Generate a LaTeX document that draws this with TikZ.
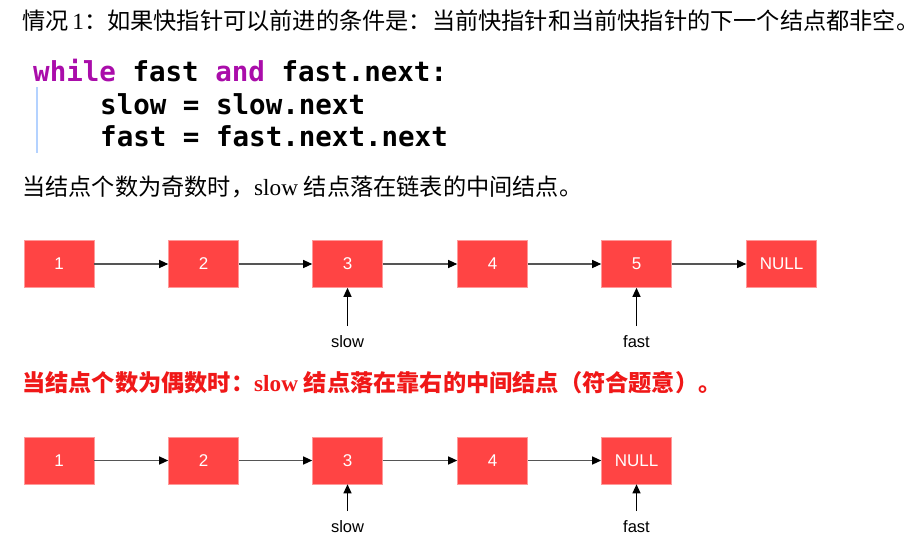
\documentclass[tikz,border=0pt]{standalone}
\usepackage{fontspec}
\setmainfont{Liberation Serif}
\setsansfont{Liberation Sans}
\newfontfamily\cjk{Noto Sans CJK SC}
\newfontfamily\codefont{DejaVu Sans Mono}
\usetikzlibrary{arrows.meta}
\definecolor{boxred}{HTML}{FF4444}
\definecolor{boxedge}{HTML}{FF9999}
\definecolor{kw}{HTML}{AA0DAA}
\definecolor{linkgray}{HTML}{555555}
\definecolor{barblue}{HTML}{B4D2FF}
\definecolor{titlered}{HTML}{F01818}
\begin{document}
\begin{tikzpicture}[x=1pt,y=-1pt,
  listnode/.style={draw=boxedge,line width=0.6pt,fill=boxred,minimum width=70pt,minimum height=47pt,inner sep=0pt,text=white,font=\sffamily\fontsize{17}{20}\selectfont},
  link/.style={draw=linkgray,line width=1.2pt,-{Triangle[length=9pt,width=8pt,color=black]}},
  ptr/.style={draw=black,line width=1.3pt,-{Triangle[length=9pt,width=8pt]}},
  ptrlabel/.style={inner sep=0pt,font=\sffamily\fontsize{16.5}{19}\selectfont},
  textline/.style={anchor=west,inner sep=0pt,font=\fontsize{23.2}{26}\selectfont},
  codeline/.style={anchor=base west,inner sep=0pt,font=\codefont\bfseries\fontsize{27.5}{32}\selectfont}]
\useasboundingbox (0,0) rectangle (920,549);
\fill[white] (0,0) rectangle (920,549);

% heading
\node[textline] (t1) at (22,21) {{\cjk 情况}\,1{\cjk ：如果快指针可以前进的条件是：当前快指针和当前快指针的下一个结点都非空。}};

% code
\node[codeline] (c1) at (33,81) {{\color{kw}while} fast {\color{kw}and} fast.next:};
\node[codeline] (c2) at (100,114) {slow = slow.next};
\node[codeline] (c3) at (100,146) {fast = fast.next.next};
\draw[barblue,line width=1.2pt] (37,87) -- (37,153);

% odd case
\node[textline] (t2) at (22,187) {{\cjk 当结点个数为奇数时，}slow {\cjk 结点落在链表的中间结点。}};

\node[listnode] (a1) at (59,264) {1};
\node[listnode] (a2) at (203.5,264) {2};
\node[listnode] (a3) at (347.5,264) {3};
\node[listnode] (a4) at (492.5,264) {4};
\node[listnode] (a5) at (636.5,264) {5};
\node[listnode] (a6) at (781.5,264) {NULL};
\draw[link] (a1) -- (a2);
\draw[link] (a2) -- (a3);
\draw[link] (a3) -- (a4);
\draw[link] (a4) -- (a5);
\draw[link] (a5) -- (a6);
\coordinate (s1) at (347.5,326);
\coordinate (f1) at (636.5,326);
\draw[ptr] (s1) -- (a3.south);
\draw[ptr] (f1) -- (a5.south);
\node[ptrlabel] (ls1) at (347.5,342) {slow};
\node[ptrlabel] (lf1) at (636.5,342) {fast};

% even case
\node[textline,text=titlered,font=\bfseries\fontsize{23.2}{26}\selectfont] (t3) at (22,383) {{\cjk\bfseries 当结点个数为偶数时：}slow {\cjk\bfseries 结点落在靠右的中间结点（符合题意）。}};

\node[listnode] (b1) at (59,460.5) {1};
\node[listnode] (b2) at (203.5,460.5) {2};
\node[listnode] (b3) at (347.5,460.5) {3};
\node[listnode] (b4) at (492.5,460.5) {4};
\node[listnode] (b5) at (636.5,460.5) {NULL};
\draw[link] (b1) -- (b2);
\draw[link] (b2) -- (b3);
\draw[link] (b3) -- (b4);
\draw[link] (b4) -- (b5);
\coordinate (s2) at (347.5,511);
\coordinate (f2) at (636.5,511);
\draw[ptr] (s2) -- (b3.south);
\draw[ptr] (f2) -- (b5.south);
\node[ptrlabel] (ls2) at (347.5,527) {slow};
\node[ptrlabel] (lf2) at (636.5,527) {fast};
\end{tikzpicture}
\end{document}
